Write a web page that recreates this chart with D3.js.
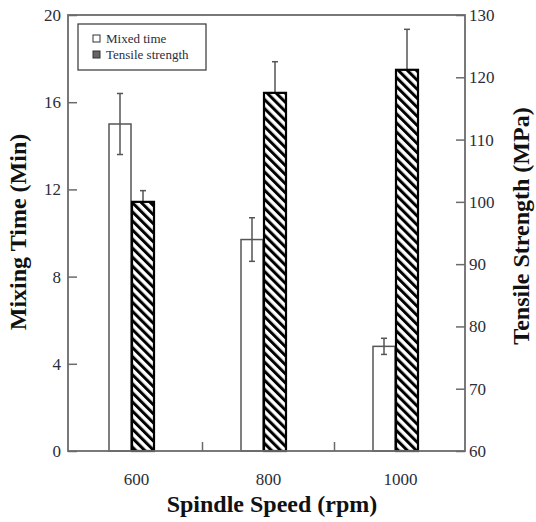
<!DOCTYPE html>
<html>
<head>
<meta charset="utf-8">
<script src="https://cdn.jsdelivr.net/npm/d3@7"></script>
<style>
  body { margin: 0; background: #fff; }
  svg { display: block; font-family: "Liberation Serif", "Times New Roman", serif; }
</style>
</head>
<body>
<div id="chart"></div>
<script>
// Data
const speeds = [600, 800, 1000];
const mixTime = [15.0, 9.7, 4.8];
const mixErr = [1.4, 1.0, 0.37];
const tensile = [100.0, 117.5, 121.2];
const tensileErr = [1.8, 5.0, 6.5];
const leftTicks = [0, 4, 8, 12, 16, 20];
const rightTicks = [60, 70, 80, 90, 100, 110, 120, 130];
const minorTicks = [700, 900];

const width = 536, height = 522;
const plotLeft = 68, plotRight = 465, plotTop = 15, plotBottom = 451;
const axisColor = "#6b6b6b";
const labelColor = "#2b2d3a";
const barW = 22;

const svg = d3.select("#chart")
    .append("svg")
    .attr("width", width)
    .attr("height", height);

// hatch pattern
svg.append("defs")
    .append("pattern")
    .attr("id", "hatch")
    .attr("patternUnits", "userSpaceOnUse")
    .attr("width", 6.4)
    .attr("height", 6.4)
    .attr("patternTransform", "rotate(-45)")
    .append("rect")
    .attr("x", 0)
    .attr("y", 0)
    .attr("width", 3)
    .attr("height", 6.4)
    .attr("fill", "#000");

// Scales
const x = d3.scaleLinear().domain([500, 1100]).range([70, 466]);
const yL = d3.scaleLinear().domain([0, 20]).range([plotBottom, plotTop]);
const yR = d3.scaleLinear().domain([60, 130]).range([plotBottom, plotTop]);

const styleAxis = g => {
    g.select(".domain").remove();
    g.selectAll("line").attr("stroke", axisColor).attr("stroke-width", 1.5);
    g.selectAll("text")
        .attr("fill", labelColor)
        .style("font-size", "17px")
        .style("font-family", "Liberation Serif, serif");
};

// Axes
svg.append("g")
    .attr("transform", `translate(${plotLeft},0)`)
    .call(d3.axisLeft(yL).tickValues(leftTicks).tickSize(-9).tickPadding(7))
    .call(styleAxis);

svg.append("g")
    .attr("transform", `translate(${plotRight},0)`)
    .call(d3.axisRight(yR).tickValues(rightTicks).tickSize(-9).tickPadding(4))
    .call(styleAxis);

svg.append("g")
    .attr("transform", `translate(0,${plotBottom})`)
    .call(d3.axisBottom(x).tickValues(minorTicks).tickSize(-9).tickFormat(""))
    .call(styleAxis);

svg.append("g")
    .attr("transform", `translate(0,${plotBottom})`)
    .call(d3.axisBottom(x).tickValues(speeds).tickSize(0).tickPadding(22).tickFormat(d3.format("d")))
    .call(styleAxis);

// error bar with caps
const errBar = (sel, cx, y1, y2, color) => {
    sel.append("line").attr("x1", cx).attr("x2", cx).attr("y1", y1).attr("y2", y2)
        .attr("stroke", color).attr("stroke-width", 1.5);
    [y1, y2].forEach(yy => sel.append("line")
        .attr("x1", cx - 3).attr("x2", cx + 3).attr("y1", yy).attr("y2", yy)
        .attr("stroke", color).attr("stroke-width", 1.5));
};

const bars = svg.append("g");

speeds.forEach((s, i) => {
    const c = x(s) - 5;
    // mixed time bar (white)
    bars.append("rect")
        .attr("x", c - barW)
        .attr("y", yL(mixTime[i]))
        .attr("width", barW)
        .attr("height", plotBottom - yL(mixTime[i]))
        .attr("fill", "#fff")
        .attr("stroke", "#555")
        .attr("stroke-width", 1.5);
    errBar(bars, c - barW / 2, yL(mixTime[i] + mixErr[i]), yL(mixTime[i] - mixErr[i]), "#555");

    // tensile strength bar (hatched), error bar drawn behind it
    errBar(bars, c + 1 + barW / 2, yR(tensile[i] + tensileErr[i]), yR(tensile[i] - tensileErr[i]), "#555");
    bars.append("rect")
        .attr("x", c + 1)
        .attr("y", yR(tensile[i]))
        .attr("width", barW)
        .attr("height", plotBottom - yR(tensile[i]))
        .attr("fill", "#fff");
    bars.append("rect")
        .attr("x", c + 1)
        .attr("y", yR(tensile[i]))
        .attr("width", barW)
        .attr("height", plotBottom - yR(tensile[i]))
        .attr("fill", "url(#hatch)")
        .attr("stroke", "#000")
        .attr("stroke-width", 2.2);
});

// Frame
svg.append("rect")
    .attr("x", plotLeft)
    .attr("y", plotTop)
    .attr("width", plotRight - plotLeft)
    .attr("height", plotBottom - plotTop)
    .attr("fill", "none")
    .attr("stroke", axisColor)
    .attr("stroke-width", 1.8);

// Legend
const legend = svg.append("g");
legend.append("rect")
    .attr("x", 78).attr("y", 24).attr("width", 128).attr("height", 46)
    .attr("fill", "#fff").attr("stroke", "#444").attr("stroke-width", 1.3);
const legendItems = [
    { label: "Mixed time", fill: "#fff" },
    { label: "Tensile strength", fill: "#666" }
];
legendItems.forEach((d, i) => {
    legend.append("rect")
        .attr("x", 93).attr("y", 35 + i * 16).attr("width", 7).attr("height", 7)
        .attr("fill", d.fill).attr("stroke", "#333").attr("stroke-width", 1);
    legend.append("text")
        .attr("x", 106).attr("y", 43 + i * 16)
        .attr("fill", labelColor)
        .style("font-size", "13px")
        .text(d.label);
});

// Axis titles
svg.append("text")
    .attr("transform", `translate(18,232) rotate(-90)`)
    .attr("text-anchor", "middle")
    .attr("dy", "0.35em")
    .style("font-size", "24px")
    .style("font-weight", "bold")
    .attr("fill", "#111")
    .text("Mixing Time (Min)");

svg.append("text")
    .attr("transform", `translate(521,226) rotate(-90)`)
    .attr("text-anchor", "middle")
    .attr("dy", "0.35em")
    .style("font-size", "24px")
    .style("font-weight", "bold")
    .attr("fill", "#111")
    .text("Tensile Strength (MPa)");

svg.append("text")
    .attr("x", 272)
    .attr("y", 512)
    .attr("text-anchor", "middle")
    .style("font-size", "24px")
    .style("font-weight", "bold")
    .attr("fill", "#111")
    .text("Spindle Speed (rpm)");
</script>
</body>
</html>
